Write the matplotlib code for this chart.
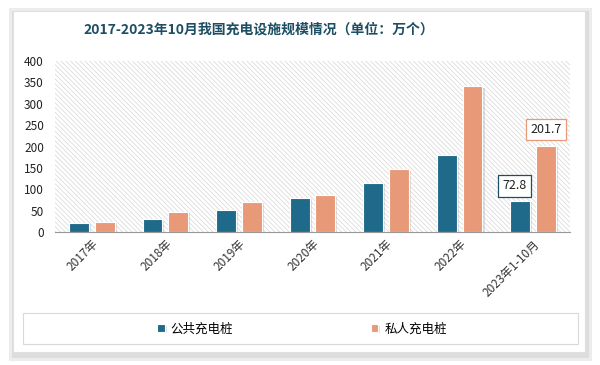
import matplotlib.pyplot as plt
import matplotlib.patches as mpatches
import matplotlib.patheffects as pe
import numpy as np

plt.rcParams['font.family'] = ['Noto Sans CJK SC', 'DejaVu Sans']
plt.rcParams['hatch.linewidth'] = 0.5

years = ['2017年', '2018年', '2019年', '2020年', '2021年', '2022年', '2023年1-10月']
public = [21.4, 30.0, 51.6, 80.7, 114.7, 179.7, 72.8]
private = [23.2, 47.7, 70.3, 87.4, 147.0, 341.2, 201.7]
names = ['公共充电桩', '私人充电桩']
c_pub = '#1f6a8a'
c_pri = '#e89a78'

fig = plt.figure(figsize=(6, 3.65), dpi=100)

# card with soft shadow
for pad, col in [(7, '#ececec'), (4, '#dddddd')]:
    fig.patches.append(mpatches.Rectangle(((13 - pad + 3)/600, 1-(352 + pad + 2)/365),
                       (572 + 2*pad - 3)/600, (341 + 2*pad - 2)/365,
                       transform=fig.transFigure, facecolor=col, edgecolor='none', zorder=0))
fig.patches.append(mpatches.Rectangle((13/600, 1-352/365), 572/600, 341/365,
                   transform=fig.transFigure, facecolor='white', edgecolor='#e0e0e0', lw=0.8, zorder=1))
# legend box
fig.patches.append(mpatches.Rectangle((23/600, 1-344/365), 555/600, 31/365,
                   transform=fig.transFigure, facecolor='white', edgecolor='#d9d9d9', lw=0.8, zorder=2))

fig.text(259/600, 1-30/365, '2017-2023年10月我国充电设施规模情况（单位：万个）',
         ha='center', va='center', fontsize=10, fontweight='bold', color='#1d4e63')

ax = fig.add_axes([55/600, 1-232/365, 515/600, 171/365])
ax.set_zorder(3)
ax.patch.set_alpha(0)
ax.add_patch(mpatches.Rectangle((0, 0), 1, 1, transform=ax.transAxes, facecolor='white',
             edgecolor='#d6d6d6', lw=0, hatch='\\\\\\\\\\\\\\', zorder=0))

x = np.arange(len(years))
w = 0.27
shadow = [pe.SimplePatchShadow(offset=(1.5, -1), shadow_rgbFace='#999999', alpha=0.3), pe.Normal()]
b1 = ax.bar(x - w/2 - 0.04, public, w, color=c_pub, edgecolor='white', lw=0.8,
            label=names[0], zorder=3, path_effects=shadow)
b2 = ax.bar(x + w/2 + 0.04, private, w, color=c_pri, edgecolor='white', lw=0.8,
            label=names[1], zorder=3, path_effects=shadow)

ax.text(x[-1] - w/2 - 0.12, public[-1] + 35, '72.8', ha='center', va='center', fontsize=9,
        color='#222222', bbox=dict(boxstyle='square,pad=0.35', fc='white', ec='#1d4e63', lw=0.9), zorder=5)
ax.text(x[-1] + w/2 + 0.04, private[-1] + 38, '201.7', ha='center', va='center', fontsize=9,
        color='#222222', bbox=dict(boxstyle='square,pad=0.35', fc='white', ec=c_pri, lw=0.9), zorder=5)

ax.set_xlim(-0.5, len(years) - 0.5)
ax.set_ylim(0, 400)
ax.set_yticks(range(0, 401, 50))
ax.set_xticks(x)
ax.set_xticklabels(years, rotation=45, ha='right', rotation_mode='anchor', fontsize=8.5, color='#333333')
ax.tick_params(axis='y', length=0, labelsize=8.5, labelcolor='#222222', pad=8)
ax.tick_params(axis='x', length=0, pad=4)
for s in ['top', 'right', 'left']:
    ax.spines[s].set_visible(False)
ax.spines['bottom'].set_color('#999999')

fig.legend(handles=[b1, b2], labels=names, loc='center', bbox_to_anchor=(302/600, 1-329/365),
           ncol=2, frameon=False, fontsize=9, handlelength=0.6, handleheight=0.6,
           handletextpad=0.5, columnspacing=11)

fig.savefig('out.png', dpi=100)
